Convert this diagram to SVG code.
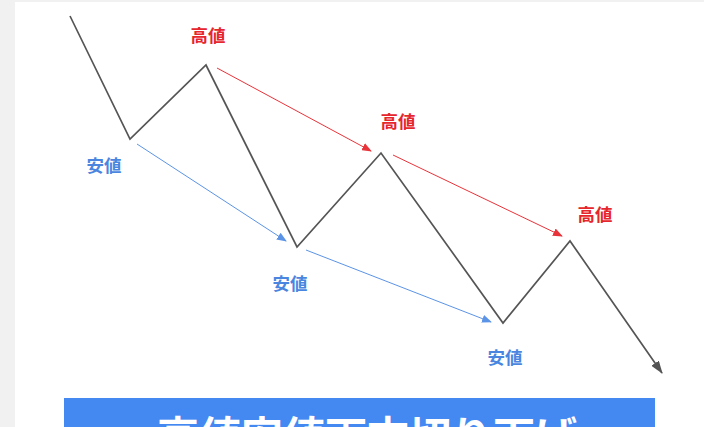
<svg xmlns="http://www.w3.org/2000/svg" width="704" height="427" viewBox="0 0 704 427">
<style>
.hi{font-family:"Noto Sans CJK JP","Noto Sans CJK SC",sans-serif;font-weight:bold;font-size:17.5px;fill:#e6262d;text-anchor:middle}
.lo{font-family:"Noto Sans CJK JP","Noto Sans CJK SC",sans-serif;font-weight:bold;font-size:17.5px;fill:#4a86e0;text-anchor:middle}
.red{stroke:#e8333a;stroke-width:1;fill:none}
.blue{stroke:#5b93e6;stroke-width:1;fill:none}
</style>
<defs>
<marker id="ar" markerWidth="10" markerHeight="8" refX="9" refY="4" orient="auto" markerUnits="userSpaceOnUse"><path d="M0,0 L10,4 L0,8 Z" fill="#e8333a"/></marker>
<marker id="ab" markerWidth="10" markerHeight="8" refX="9" refY="4" orient="auto" markerUnits="userSpaceOnUse"><path d="M0,0 L10,4 L0,8 Z" fill="#5b93e6"/></marker>
<marker id="ak" markerWidth="13" markerHeight="9" refX="12" refY="4.5" orient="auto" markerUnits="userSpaceOnUse"><path d="M0,0 L13,4.5 L0,9 Z" fill="#555"/></marker>
</defs>
<rect width="704" height="427" fill="#ffffff"/>
<rect x="0" y="0" width="704" height="2" fill="#f1f1f1"/>
<rect x="0" y="0" width="15" height="427" fill="#f1f1f1"/>
<g id="connectors">
<polyline points="70,16 130,139 206,65 297,247 381,153 503,323 570,241 662,373" fill="none" stroke="#555" stroke-width="1.7" stroke-linejoin="miter" marker-end="url(#ak)"/>
<line class="red" x1="217" y1="68" x2="371" y2="151" marker-end="url(#ar)"/>
<line class="red" x1="393" y1="155" x2="562" y2="236" marker-end="url(#ar)"/>
<line class="blue" x1="137" y1="144" x2="286" y2="241" marker-end="url(#ab)"/>
<line class="blue" x1="306" y1="250" x2="491" y2="322" marker-end="url(#ab)"/>
</g>
<g id="high1"><text class="hi" x="208" y="42">高値</text></g>
<g id="high2"><text class="hi" x="398" y="128">高値</text></g>
<g id="high3"><text class="hi" x="595" y="221">高値</text></g>
<g id="low1"><text class="lo" x="104" y="172">安値</text></g>
<g id="low2"><text class="lo" x="290" y="290">安値</text></g>
<g id="low3"><text class="lo" x="505" y="364">安値</text></g>
<g id="banner">
<rect x="64" y="398" width="591" height="29" fill="#4488f2"/>
<text x="157" y="452" font-family="Noto Sans CJK JP,Noto Sans CJK SC,sans-serif" font-weight="bold" font-size="42" fill="#ffffff">高値安値両方切り下げ</text>
</g>
</svg>
